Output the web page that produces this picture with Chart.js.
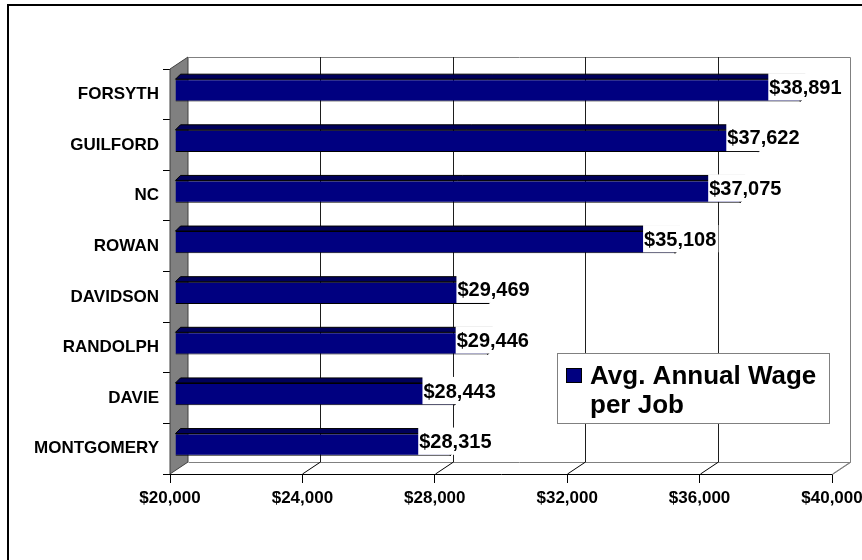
<!DOCTYPE html>
<html>
<head>
<meta charset="utf-8">
<title>Avg. Annual Wage per Job</title>
<script src="https://cdn.jsdelivr.net/npm/chart.js@4.4.1/dist/chart.umd.min.js"></script>
<style>
  html, body { margin: 0; padding: 0; background: #fff; }
  #wrap { width: 862px; height: 560px; }
</style>
</head>
<body>
<div id="wrap"><canvas id="wageChart" width="862" height="560"></canvas></div>
<script>
// counties, top to bottom
const counties = ["FORSYTH", "GUILFORD", "NC", "ROWAN", "DAVIDSON", "RANDOLPH", "DAVIE", "MONTGOMERY"];
const avgWage = [38891, 37622, 37075, 35108, 29469, 29446, 28443, 28315];
const legendLines = ["Avg. Annual Wage", "per Job"];
const axisMin = 20000;
const axisMax = 40000;
const axisStep = 4000;

const FONT = "'Liberation Sans', Arial, sans-serif";
const NAVY = "#000080";
// depth of the back wall and of the bars
const WALL_DX = 18, WALL_DY = -12;
const BAR_DX = 5, BAR_DY = -4, BAR_DEPTH = 5;

function money(v) {
    return "$" + Number(v).toLocaleString("en-US");
}

const walls3d = {
    id: "walls3d",
    beforeDatasetsDraw(chart) {
        const ctx = chart.ctx;
        const a = chart.chartArea;
        const xs = chart.scales.x;
        const l = a.left, r = a.right, t = a.top, b = a.bottom;

        ctx.save();
        // back wall
        ctx.fillStyle = "#fff";
        ctx.fillRect(l + WALL_DX, t + WALL_DY, r - l, b - t);
        ctx.strokeStyle = "#808080";
        ctx.lineWidth = 1;
        ctx.beginPath();
        ctx.moveTo(l + WALL_DX + 0.5, t + WALL_DY + 0.5);
        ctx.lineTo(r + WALL_DX + 0.5, t + WALL_DY + 0.5);
        ctx.lineTo(r + WALL_DX + 0.5, b + WALL_DY + 0.5);
        ctx.lineTo(l + WALL_DX + 0.5, b + WALL_DY + 0.5);
        ctx.stroke();
        // floor right edge
        ctx.beginPath();
        ctx.moveTo(r + 0.5, b + 0.5);
        ctx.lineTo(r + WALL_DX + 0.5, b + WALL_DY + 0.5);
        ctx.stroke();

        // grid lines on the back wall and across the floor
        xs.ticks.forEach(tk => {
            const px = Math.round(xs.getPixelForValue(tk.value)) + 0.5;
            if (tk.value > axisMin && tk.value < axisMax) {
                ctx.strokeStyle = "#1e1e1e";
                ctx.beginPath();
                ctx.moveTo(px + WALL_DX, t + WALL_DY);
                ctx.lineTo(px + WALL_DX, b + WALL_DY);
                ctx.stroke();
            }
            if (tk.value > axisMin) {
                ctx.strokeStyle = tk.value < axisMax ? "#000" : "#808080";
                ctx.beginPath();
                ctx.moveTo(px, b);
                ctx.lineTo(px + WALL_DX, b + WALL_DY);
                ctx.stroke();
            }
        });

        // grey side wall
        ctx.fillStyle = "#808080";
        ctx.strokeStyle = "#404040";
        ctx.beginPath();
        ctx.moveTo(l, t);
        ctx.lineTo(l + WALL_DX, t + WALL_DY);
        ctx.lineTo(l + WALL_DX, b + WALL_DY);
        ctx.lineTo(l, b);
        ctx.closePath();
        ctx.fill();
        ctx.stroke();
        ctx.restore();

        // bars sit a little behind the front plane
        ctx.save();
        ctx.translate(BAR_DX, BAR_DY);
    },
    afterDatasetsDraw(chart) {
        const ctx = chart.ctx;
        const meta = chart.getDatasetMeta(0);
        ctx.lineWidth = 1;
        ctx.strokeStyle = "#000";
        meta.data.forEach(bar => {
            const p = bar.getProps(["x", "y", "base", "height"], true);
            const top = p.y - p.height / 2;
            const bot = p.y + p.height / 2;
            // top face
            ctx.fillStyle = "#00005a";
            ctx.beginPath();
            ctx.moveTo(p.base, top);
            ctx.lineTo(p.base + BAR_DEPTH, top - BAR_DEPTH);
            ctx.lineTo(p.x + BAR_DEPTH, top - BAR_DEPTH);
            ctx.lineTo(p.x, top);
            ctx.closePath();
            ctx.fill();
            ctx.stroke();
            // end face
            ctx.fillStyle = "#000050";
            ctx.beginPath();
            ctx.moveTo(p.x, top);
            ctx.lineTo(p.x + BAR_DEPTH, top - BAR_DEPTH);
            ctx.lineTo(p.x + BAR_DEPTH, bot - BAR_DEPTH);
            ctx.lineTo(p.x, bot);
            ctx.closePath();
            ctx.fill();
            ctx.stroke();
        });
        ctx.restore();

        // value labels with a white backing, overlapping the bar ends
        ctx.save();
        ctx.font = "bold 20px " + FONT;
        ctx.textBaseline = "middle";
        ctx.textAlign = "left";
        meta.data.forEach((bar, i) => {
            const p = bar.getProps(["x", "y", "height"], true);
            const text = money(avgWage[i]);
            const w = ctx.measureText(text).width;
            const x0 = p.x + BAR_DX - 32;
            const top = p.y + BAR_DY - p.height / 2;
            const bot = p.y + BAR_DY + p.height / 2;
            ctx.fillStyle = "#fff";
            ctx.fillRect(x0, top - BAR_DEPTH - 1, w + 3, bot - top + BAR_DEPTH);
            ctx.fillStyle = "#000";
            ctx.fillText(text, x0 + 1, p.y + BAR_DY - 2);
        });
        ctx.restore();
    },
    afterDraw(chart) {
        const ctx = chart.ctx;
        ctx.save();
        // legend box
        ctx.fillStyle = "#fff";
        ctx.fillRect(557, 353, 272, 70);
        ctx.strokeStyle = "#808080";
        ctx.lineWidth = 1;
        ctx.strokeRect(557.5, 353.5, 272, 70);
        ctx.fillStyle = NAVY;
        ctx.fillRect(566, 368, 16, 15);
        ctx.strokeStyle = "#000";
        ctx.strokeRect(566.5, 368.5, 15, 14);
        ctx.fillStyle = "#000";
        ctx.font = "bold 26px " + FONT;
        ctx.textBaseline = "alphabetic";
        ctx.fillText(legendLines[0], 590, 384);
        ctx.fillText(legendLines[1], 590, 413);

        // frame
        ctx.strokeStyle = "#000";
        ctx.lineWidth = 2;
        ctx.strokeRect(8, 5, 1000, 1000);
        ctx.restore();
    }
};

new Chart(document.getElementById("wageChart"), {
    type: "bar",
    data: {
        labels: counties,
        datasets: [{
            label: legendLines.join(" "),
            data: avgWage,
            base: axisMin,
            backgroundColor: NAVY,
            borderColor: "#000",
            borderWidth: 1,
            barPercentage: 0.44,
            categoryPercentage: 1,
            clip: false
        }]
    },
    options: {
        indexAxis: "y",
        responsive: false,
        animation: false,
        layout: { padding: { left: 0, top: 69, right: 30, bottom: 0 } },
        plugins: {
            legend: { display: false },
            tooltip: { enabled: false }
        },
        scales: {
            x: {
                min: axisMin,
                max: axisMax,
                afterFit(scale) {
                    scale.height = 86;
                    scale.paddingLeft = 0;
                    scale.paddingRight = 0;
                },
                ticks: {
                    stepSize: axisStep,
                    color: "#000",
                    padding: 5,
                    maxRotation: 0,
                    font: { family: FONT, size: 17, weight: "bold" },
                    callback: v => money(v)
                },
                grid: { drawOnChartArea: false, tickLength: 9, color: "#000" },
                border: { color: "#000" }
            },
            y: {
                afterFit(scale) {
                    scale.width = 170;
                },
                ticks: {
                    color: "#000",
                    padding: 4,
                    font: { family: FONT, size: 17, weight: "bold" }
                },
                grid: { drawOnChartArea: false, tickLength: 7, color: "#000", offset: true },
                border: { color: "#000" }
            }
        }
    },
    plugins: [walls3d]
});
</script>
</body>
</html>
